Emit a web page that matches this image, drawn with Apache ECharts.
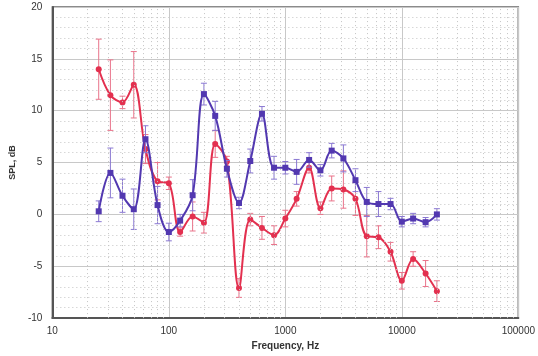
<!DOCTYPE html>
<html>
<head>
<meta charset="utf-8">
<script src="https://cdn.jsdelivr.net/npm/echarts@6/dist/echarts.min.js"></script>
<style>
  html, body { margin: 0; padding: 0; background: #fff; }
  #chart { width: 538px; height: 356px; }
</style>
</head>
<body>
<div id="chart"></div>
<script>
// 1/3 octave band centres, Hz
const freqs = [25, 31.5, 40, 50, 63, 80, 100, 125, 160, 200, 250, 315, 400, 500, 630, 800,
  1000, 1250, 1600, 2000, 2500, 3150, 4000, 5000, 6300, 8000, 10000, 12500, 16000, 20000];

// red curve (circles)
const redSpl = [14.0, 11.5, 10.8, 12.5, 6.3, 3.2, 3.0, -1.7, -0.2, -0.8, 6.8, 5.1, -7.1, -0.5, -1.3, -2.0,
  -0.4, 1.5, 4.5, 0.6, 2.5, 2.4, 1.5, -2.1, -2.2, -3.6, -6.4, -4.3, -5.7, -7.4];
const redErr = [2.9, 3.4, 0.6, 3.2, 1.4, 1.8, 0.6, 0.4, 1.4, 1.0, 1.3, 0.5, 0.9, 0.6, 1.1, 0.9,
  0.8, 0.7, 0.5, 0.6, 1.2, 1.8, 1.6, 2.0, 1.1, 0.9, 0.8, 0.7, 1.25, 1.0];

// blue curve (squares)
const blueSpl = [0.3, 4.0, 1.8, 0.5, 7.25, 0.9, -1.7, -0.6, 1.85, 11.6, 9.5, 4.4, 1.1, 5.15, 9.7, 4.5,
  4.5, 4.1, 5.25, 4.25, 6.15, 5.4, 3.3, 1.2, 1.0, 1.0, -0.7, -0.4, -0.75, 0.0];
const blueErr = [1.0, 2.4, 1.6, 1.95, 1.3, 1.8, 0.85, 0.6, 1.5, 1.05, 1.4, 0.8, 0.55, 1.15, 0.7, 1.1,
  0.6, 1.2, 0.7, 0.55, 0.7, 1.3, 1.1, 1.4, 1.2, 0.55, 0.5, 0.5, 0.45, 0.55];

const decades = [10, 100, 1000, 10000];
const minorSteps = [2, 3, 4, 5, 6, 7, 8, 9];

const RED = '#e3304f';
const RED_ERR = '#e9738a';
const BLUE = '#5238b0';
const BLUE_ERR = '#8a78d2';
const FONT = 'Liberation Sans';

// minor log grid lines (2..9 per decade)
let minorLines = [];
decades.forEach(d => minorSteps.forEach(s => minorLines.push({ xAxis: d * s })));

function errorBars(name, mean, err, color, z) {
  return {
    name: name,
    type: 'custom',
    z: z,
    silent: true,
    data: freqs.map((f, i) => [f, mean[i] - err[i], mean[i] + err[i]]),
    encode: { x: 0, y: [1, 2] },
    renderItem: (params, api) => {
      const lo = api.coord([api.value(0), api.value(1)]);
      const hi = api.coord([api.value(0), api.value(2)]);
      const w = 3;
      const style = { stroke: color, lineWidth: 1 };
      return {
        type: 'group',
        children: [
          { type: 'line', shape: { x1: lo[0], y1: lo[1], x2: hi[0], y2: hi[1] }, style: style },
          { type: 'line', shape: { x1: lo[0] - w, y1: lo[1], x2: lo[0] + w, y2: lo[1] }, style: style },
          { type: 'line', shape: { x1: hi[0] - w, y1: hi[1], x2: hi[0] + w, y2: hi[1] }, style: style },
        ],
      };
    },
  };
}

const chart = echarts.init(document.getElementById('chart'));

chart.setOption({
  animation: false,
  backgroundColor: '#fff',
  textStyle: { fontFamily: FONT },
  grid: {
    left: 45, right: 18, top: 7, bottom: 33,
    show: true, borderColor: '#666', borderWidth: 1.5,
  },
  xAxis: {
    type: 'log',
    logBase: 10,
    min: 10,
    max: 100000,
    name: 'Frequency, Hz',
    nameLocation: 'middle',
    nameGap: 18,
    nameTextStyle: { fontFamily: FONT, fontWeight: 'bold', fontSize: 10, color: '#333' },
    axisLine: { show: true, onZero: false, lineStyle: { color: '#555', width: 2 } },
    axisTick: { show: false },
    axisLabel: {
      fontFamily: FONT, fontSize: 10, color: '#333', margin: 8,
      formatter: v => String(Math.round(v)),
    },
    splitLine: { show: true, lineStyle: { color: '#c8c8c8', width: 1 } },
  },
  yAxis: {
    type: 'value',
    min: -10,
    max: 20,
    interval: 5,
    name: 'SPL, dB',
    nameLocation: 'middle',
    nameGap: 30,
    nameTextStyle: { fontFamily: FONT, fontWeight: 'bold', fontSize: 9, color: '#333' },
    axisLine: { show: true, lineStyle: { color: '#555', width: 2 } },
    axisTick: { show: false },
    axisLabel: { fontFamily: FONT, fontSize: 10, color: '#333', margin: 10 },
    splitLine: { show: true, lineStyle: { color: '#c8c8c8', width: 1 } },
    minorTick: { show: false, splitNumber: 5 },
    minorSplitLine: { show: true, lineStyle: { color: '#c4c4c4', type: [1, 3], width: 1 } },
  },
  series: [
    {
      name: 'grid',
      type: 'line',
      data: [],
      silent: true,
      markLine: {
        silent: true,
        symbol: 'none',
        label: { show: false },
        lineStyle: { color: '#c4c4c4', type: [1, 3], width: 1 },
        data: minorLines,
      },
    },
    errorBars('red err', redSpl, redErr, RED_ERR, 2),
    {
      name: 'red',
      type: 'line',
      z: 3,
      smooth: 0.35,
      data: freqs.map((f, i) => [f, redSpl[i]]),
      symbol: 'circle',
      symbolSize: 6,
      lineStyle: { color: RED, width: 2 },
      itemStyle: { color: RED },
    },
    errorBars('blue err', blueSpl, blueErr, BLUE_ERR, 4),
    {
      name: 'blue',
      type: 'line',
      z: 5,
      smooth: 0.35,
      data: freqs.map((f, i) => [f, blueSpl[i]]),
      symbol: 'rect',
      symbolSize: 6,
      lineStyle: { color: BLUE, width: 2 },
      itemStyle: { color: BLUE },
    },
  ],
});
</script>
</body>
</html>
